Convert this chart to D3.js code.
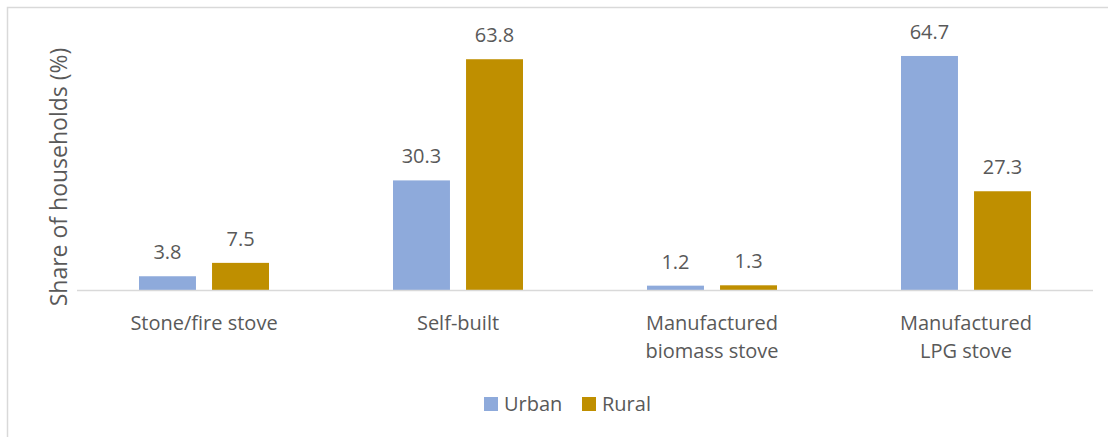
<!DOCTYPE html>
<html><head><meta charset="utf-8">
<script src="https://cdn.jsdelivr.net/npm/d3@7"></script>
<style>body{margin:0;background:#fff}svg{display:block}text{font-family:"Open Sans",sans-serif;fill:#595959}</style>
</head><body><svg id="c" width="1108" height="437"></svg>
<script>
const categories = [["Stone/fire stove"],["Self-built"],["Manufactured","biomass stove"],["Manufactured","LPG stove"]];
const seriesNames = ["Urban","Rural"];
const urban = [3.8, 30.3, 1.2, 64.7];
const rural = [7.5, 63.8, 1.3, 27.3];
const colors = ["#8eaadb","#bf8f00"];

const svg = d3.select("#c");
svg.append("rect").attr("x",7.5).attr("y",7.5).attr("width",1108).attr("height",460).attr("fill","none").attr("stroke","#d9d9d9").attr("stroke-width",1.5);

const x0 = d3.scaleBand().domain(d3.range(categories.length)).range([77,1093]).paddingInner(0).paddingOuter(0);
const x1 = d3.scaleBand().domain(seriesNames).range([62,192]).paddingInner(0.22);
const y = d3.scaleLinear().domain([0,70]).range([290,36.8]);

const data = [urban, rural];
const g = svg.append("g");
seriesNames.forEach((s,si)=>{
  g.selectAll(null).data(data[si]).enter().append("rect")
    .attr("x",(d,i)=>x0(i)+x1(s)).attr("width",x1.bandwidth())
    .attr("y",d=>y(d)).attr("height",d=>y(0)-y(d)).attr("fill",colors[si]);
  g.selectAll(null).data(data[si]).enter().append("text")
    .attr("x",(d,i)=>x0(i)+x1(s)+x1.bandwidth()/2).attr("y",d=>y(d)-17)
    .attr("text-anchor","middle").attr("font-size",20).text(d=>d.toFixed(1));
});
svg.append("line").attr("x1",77).attr("x2",1093).attr("y1",290.5).attr("y2",290.5).attr("stroke","#d9d9d9").attr("stroke-width",1.5);

const xa = svg.append("g");
categories.forEach((lines,i)=>{
  const t = xa.append("text").attr("x",x0(i)+x0.bandwidth()/2).attr("y",330).attr("text-anchor","middle").attr("font-size",20);
  lines.forEach((l,j)=>t.append("tspan").attr("x",x0(i)+x0.bandwidth()/2).attr("dy",j?28:0).text(l));
});

svg.append("text").attr("transform","translate(67,177) rotate(-90)").attr("text-anchor","middle").attr("font-size",23).text("Share of households (%)");

const leg = svg.append("g");
const legX = [484,582];
seriesNames.forEach((s,i)=>{
  leg.append("rect").attr("x",legX[i]).attr("y",397).attr("width",14).attr("height",14).attr("fill",colors[i]);
  leg.append("text").attr("x",legX[i]+20).attr("y",411).attr("font-size",20).text(s);
});
</script></body></html>
